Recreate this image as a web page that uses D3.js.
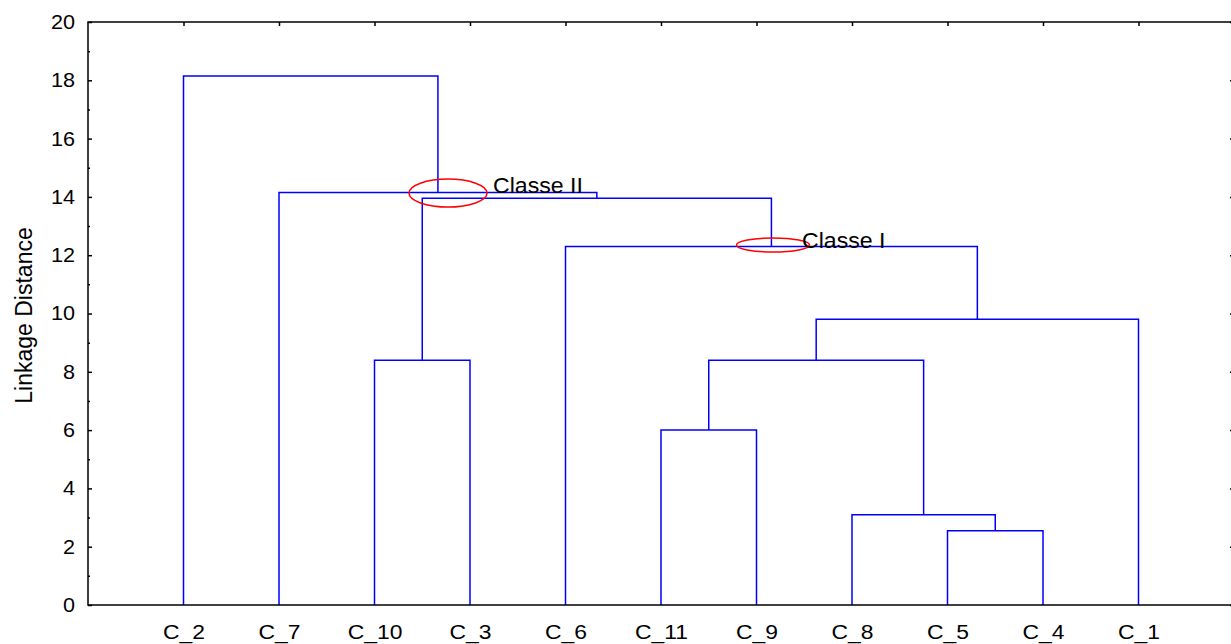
<!DOCTYPE html>
<html><head><meta charset="utf-8">
<script src="https://cdn.jsdelivr.net/npm/d3@7"></script>
<style>body{margin:0;background:#fff}svg{display:block;font-family:"Liberation Sans",Arial,sans-serif}</style>
</head><body><svg id="c" width="1231" height="644"></svg>
<script>
const leaves = ["C_2","C_7","C_10","C_3","C_6","C_11","C_9","C_8","C_5","C_4","C_1"];
const mergeIds = ["M1","M2","M3","M4","M5","M6","M7","M8","M9","M10"];
const mergeA = ["C_5","C_8","C_11","M3","M4","C_10","C_6","M6","C_7","C_2"];
const mergeB = ["C_4","M1","C_9","M2","C_1","C_3","M5","M7","M8","M9"];
const mergeHeight = [2.55, 3.1, 6.0, 8.4, 9.8, 8.4, 12.3, 13.95, 14.15, 18.15];
const yTicks = [0,2,4,6,8,10,12,14,16,18,20];
const yMinor = [1,3,5,7,9,11,13,15,17,19];
const annLabels = ["Classe II","Classe I"];
const annX = [448, 773];        // ellipse centre (px along the axis of leaves)
const annH = [14.13, 12.35];    // ellipse centre height (linkage distance)

const svg = d3.select("#c");
const L = 88, R = 1234, T = 22, B = 605;
const x = d3.scalePoint().domain(leaves).range([L, R]).padding(1);
const y = d3.scaleLinear().domain([0, 20]).range([B, T]);
const FONT = "Liberation Sans, Arial, sans-serif";

const pos = {};
leaves.forEach(l => pos[l] = {x: x(l), h: 0});
mergeIds.forEach((m, i) => {
  const a = pos[mergeA[i]], b = pos[mergeB[i]];
  pos[m] = {x: (a.x + b.x) / 2, h: mergeHeight[i], ax: a.x, bx: b.x, ah: a.h, bh: b.h};
});

svg.append("g").selectAll("path.link").data(mergeIds).join("path")
  .attr("class", "link")
  .attr("fill", "none").attr("stroke", "#0000ff").attr("stroke-width", 1.5)
  .attr("d", m => {
    const p = pos[m];
    return `M${p.ax},${y(p.ah)}V${y(p.h)}H${p.bx}V${y(p.bh)}`;
  });

svg.append("rect").attr("x", L).attr("y", T).attr("width", R - L).attr("height", B - T)
  .attr("fill", "none").attr("stroke", "#000").attr("stroke-width", 1.5);

const ya = svg.append("g").attr("transform", `translate(${L},0)`)
  .call(d3.axisLeft(y).tickValues(yTicks).tickSize(-4).tickPadding(13).tickFormat(d3.format("d")));
ya.select(".domain").remove();
ya.selectAll("text").attr("font-size", 20).attr("fill", "#000").attr("font-family", FONT)
  .attr("x", -13 / 1.08).attr("transform", "scale(1.08,1)");
ya.selectAll("line").attr("stroke", "#000").attr("stroke-width", 1.5);
const yMin = svg.append("g").attr("transform", `translate(${L},0)`)
  .call(d3.axisLeft(y).tickValues(yMinor).tickSize(-2).tickFormat(""));
yMin.select(".domain").remove();
yMin.selectAll("line").attr("stroke", "#000").attr("stroke-width", 1.5);

const yr = svg.append("g").attr("transform", `translate(${R},0)`)
  .call(d3.axisRight(y).tickValues(yTicks).tickSize(-4).tickFormat(""));
yr.select(".domain").remove();
yr.selectAll("line").attr("stroke", "#000").attr("stroke-width", 1.5);

const xt = svg.append("g").attr("transform", `translate(0,${T})`)
  .call(d3.axisTop(x).tickSize(-4).tickFormat(""));
xt.select(".domain").remove();
xt.selectAll("line").attr("stroke", "#000").attr("stroke-width", 1.5);

const xb = svg.append("g").attr("transform", `translate(0,${B})`)
  .call(d3.axisBottom(x).tickSize(0).tickPadding(19));
xb.select(".domain").remove();
xb.selectAll("text").attr("font-size", 21).attr("fill", "#000").attr("font-family", FONT)
  .attr("transform", "scale(1.09,1)");

svg.append("text").attr("transform", `translate(32,315.5) rotate(-90)`)
  .attr("text-anchor", "middle").attr("font-size", 23).attr("fill", "#000").text("Linkage Distance");

const ellR = [[39, 14], [36.5, 7]];
const txtX = [493, 802];
const txtDy = [0, 3];
annLabels.forEach((t, i) => {
  const cx = annX[i], cy = y(annH[i]);
  svg.append("ellipse").attr("cx", cx).attr("cy", cy).attr("rx", ellR[i][0]).attr("ry", ellR[i][1])
    .attr("fill", "none").attr("stroke", "#ff0000").attr("stroke-width", 1.5);
  svg.append("text").attr("transform", `translate(${txtX[i]},${cy + txtDy[i]}) scale(1.05,1)`)
    .attr("font-size", 22).attr("fill", "#000").text(t);
});
</script></body></html>
